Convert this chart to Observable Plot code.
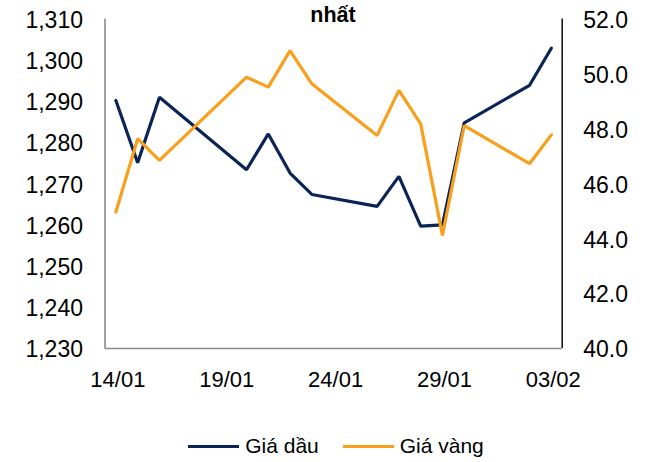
<!DOCTYPE html>
<html>
<head>
<meta charset="utf-8">
<script src="https://cdn.jsdelivr.net/npm/d3@7"></script>
<script src="https://cdn.jsdelivr.net/npm/@observablehq/plot@0.6"></script>
<style>
  html, body { margin: 0; padding: 0; background: #fff; }
  #wrap { position: relative; width: 648px; height: 462px; font-family: "Liberation Sans", Arial, sans-serif; }
  #title { position: absolute; left: 0; width: 666px; top: 4px; line-height: 22px; text-align: center; font-weight: bold; font-size: 21.5px; color: #000; z-index: 2; }
  #legend { position: absolute; top: 434px; left: 12px; width: 648px; display: flex; justify-content: center; align-items: center; font-size: 21px; color: #000; }
  .sw { display: inline-block; width: 51px; height: 3px; margin-right: 6px; }
  .item { display: flex; align-items: center; margin: 0 12px; }
  #chart svg { position: absolute; left: 0; top: 0; }
</style>
</head>
<body>
<div id="wrap">
  <div id="chart"></div>
  <div id="title">nhất</div>
  <div id="legend"></div>
</div>
<script>
const dates = ["2020-01-14","2020-01-15","2020-01-16","2020-01-20","2020-01-21","2020-01-22","2020-01-23","2020-01-26","2020-01-27","2020-01-28","2020-01-29","2020-01-30","2020-02-02","2020-02-03"];
const oilPrice = [1290.2,1275.1,1291.0,1273.4,1282.1,1272.6,1267.4,1264.5,1271.8,1259.7,1260.0,1284.8,1293.9,1302.9];
const goldPrice = [44.97,47.64,46.85,49.88,49.52,50.85,49.64,47.76,49.40,48.18,44.12,48.12,46.73,47.78];
const seriesNames = ["Giá dầu","Giá vàng"];
const colors = ["#0b2456","#f8a01c"];
const leftTicks = [1230,1240,1250,1260,1270,1280,1290,1300,1310];
const rightTicks = [40,42,44,46,48,50,52];
const xTicks = ["2020-01-14","2020-01-19","2020-01-24","2020-01-29","2020-02-03"];

const toLeft = v => 1230 + (v - 40) * (80 / 12);
const fromLeft = v => 40 + (v - 1230) * (12 / 80);
const parse = d3.utcParse("%Y-%m-%d");

const oil = dates.map((d, i) => ({date: parse(d), value: oilPrice[i]}));
const gold = dates.map((d, i) => ({date: parse(d), value: toLeft(goldPrice[i])}));

const x0 = new Date(parse(dates[0]).getTime() - 12 * 3600e3);
const x1 = new Date(parse(dates[dates.length - 1]).getTime() + 12 * 3600e3);

const fmt = d3.format(",");
const plot = Plot.plot({
  width: 648,
  height: 420,
  marginLeft: 104.5,
  marginRight: 86.3,
  marginTop: 18.5,
  marginBottom: 72,
  style: {fontFamily: "'Liberation Sans', Arial, sans-serif", fontSize: "22px", color: "#000", background: "transparent"},
  x: {type: "utc", domain: [x0, x1]},
  y: {domain: [1230, 1310]},
  marks: [
    Plot.axisY(leftTicks, {anchor: "left", tickSize: 0, tickPadding: 22, tickFormat: fmt, label: null, fontSize: 23, dy: 1.5}),
    Plot.axisY(rightTicks.map(toLeft), {anchor: "right", tickSize: 0, tickPadding: 21, tickFormat: d => fromLeft(d).toFixed(1), label: null, fontSize: 23, dy: 1.5}),
    Plot.axisX(xTicks.map(parse), {anchor: "bottom", tickSize: 0, tickPadding: 23, tickFormat: d3.utcFormat("%d/%m"), label: null, fontSize: 22, dx: 2}),
    Plot.ruleX([x0], {y1: 1230, y2: 1310, stroke: "#8a8a8a", strokeWidth: 1.6}),
    Plot.ruleX([x1], {y1: 1230, y2: 1310, stroke: "#1a1a1a", strokeWidth: 1.6}),
    Plot.ruleY([1230], {x1: x0, x2: x1, stroke: "#8a8a8a", strokeWidth: 1.6}),
    Plot.line(oil, {x: "date", y: "value", stroke: colors[0], strokeWidth: 3.2, strokeLinejoin: "miter", strokeLinecap: "round"}),
    Plot.line(gold, {x: "date", y: "value", stroke: colors[1], strokeWidth: 3.2, strokeLinejoin: "miter", strokeLinecap: "round"})
  ]
});
document.getElementById("chart").appendChild(plot);

const legend = document.getElementById("legend");
seriesNames.forEach((name, i) => {
  const item = document.createElement("div");
  item.className = "item";
  const sw = document.createElement("span");
  sw.className = "sw";
  sw.style.background = colors[i];
  item.appendChild(sw);
  const t = document.createElement("span");
  t.textContent = name;
  item.appendChild(t);
  legend.appendChild(item);
});
</script>
</body>
</html>
